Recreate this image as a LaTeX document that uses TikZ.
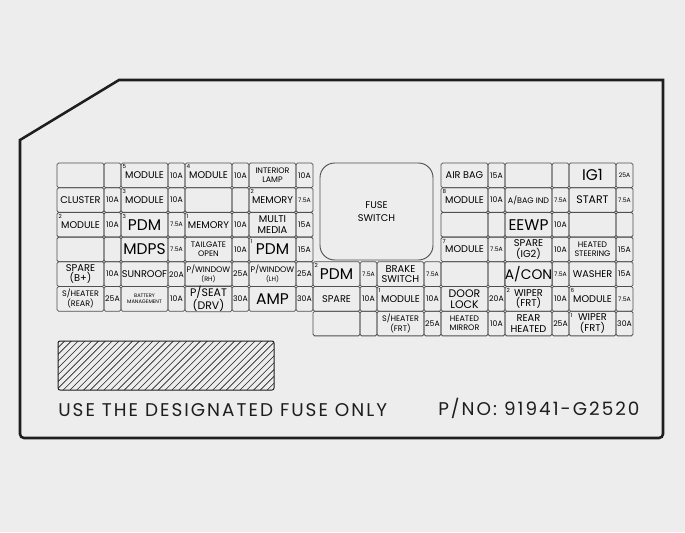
\documentclass[tikz,border=0pt]{standalone}
\usepackage{fontspec}
\setmainfont{Poppins}
\newfontfamily\spaced[LetterSpace=11]{Poppins}
\usepackage{tikz}

\definecolor{panel}{HTML}{EDEDED}
\definecolor{ink}{HTML}{1E1E1E}
\definecolor{cellline}{HTML}{505050}

\newcommand{\fslab}{\fontsize{7.3}{7.3}\selectfont}
\newcommand{\fstwo}{\fontsize{7.4}{7.9}\selectfont}
\newcommand{\fsmid}{\fontsize{8.2}{8.3}\selectfont}
\newcommand{\fswide}{\fontsize{10.4}{10.4}\selectfont}
\newcommand{\fsbig}{\fontsize{11.6}{11.6}\selectfont}
\newcommand{\fssmall}{\fontsize{6}{6.6}\selectfont}
\newcommand{\fstiny}{\fontsize{4.8}{5}\selectfont}
\newcommand{\fsmini}{\fontsize{3.8}{4.6}\selectfont}
\newcommand{\fsamp}{\fontsize{5.8}{5.8}\selectfont}
\newcommand{\fsampsm}{\fontsize{4.6}{4.6}\selectfont}
\newcommand{\fsnum}{\fontsize{4.2}{4.2}\selectfont}
\newcommand{\fsfoot}{\fontsize{13.8}{13.8}\selectfont}

\tikzset{
  fusebox/.style={draw=cellline, line width=0.6pt, rounded corners=1.2pt,
    inner sep=0pt, minimum height=18.5pt, align=center},
  namecell/.style={fusebox, minimum width=35.25pt},
  ampcell/.style={fusebox, minimum width=12.75pt, font=\fsamp},
  numtext/.style={anchor=north west, inner sep=0pt, xshift=1.3pt, yshift=-1.5pt, font=\fsnum},
}

% name, group x, row, font, label, rating
\newcommand{\fusepair}[6]{%
  \node[namecell, font=#4] (#1) at ({#2+23.5},{163+(#3-0.5)*24.7}) {#5};
  \node[ampcell] (#1a) at ({#2+55.5},{163+(#3-0.5)*24.7}) {#6};}

\begin{document}
\begin{tikzpicture}[x=0.75pt, y=-0.75pt]
\fill[panel] (0,0) rectangle (685,532);
\useasboundingbox (0,0) rectangle (685,532);

% outline of the lid
\draw[ink, line width=1.9pt, line join=miter] (20,300) -- (20,140) -- (119,80) -- (663,80)
  [rounded corners=3pt] -- (663,438) -- (20,438) -- (20,300);

% fuse switch
\node[draw=cellline, line width=0.7pt, rounded corners=11pt, minimum width=84.75pt,
  minimum height=72.75pt, font=\fslab, align=center] (switch) at (376.5,211.5) {FUSE\\[3pt]SWITCH};

% left block
\fusepair{f1a}{57}{1}{\fslab}{}{}
\fusepair{f1b}{121}{1}{\fslab}{MODULE}{10A}
\fusepair{f1c}{185}{1}{\fslab}{MODULE}{10A}
\fusepair{f1d}{249}{1}{\fssmall}{INTERIOR\\LAMP}{10A}
\fusepair{f2a}{57}{2}{\fslab}{CLUSTER}{10A}
\fusepair{f2b}{121}{2}{\fslab}{MODULE}{10A}
\fusepair{f2c}{185}{2}{\fslab}{}{}
\fusepair{f2d}{249}{2}{\fslab}{MEMORY}{\fsampsm 7.5A}
\fusepair{f3a}{57}{3}{\fslab}{MODULE}{10A}
\fusepair{f3b}{121}{3}{\fsbig}{PDM}{\fsampsm 7.5A}
\fusepair{f3c}{185}{3}{\fslab}{MEMORY}{10A}
\fusepair{f3d}{249}{3}{\fstwo}{MULTI\\MEDIA}{15A}
\fusepair{f4a}{57}{4}{\fslab}{}{}
\fusepair{f4b}{121}{4}{\fsbig}{MDPS}{\fsampsm 7.5A}
\fusepair{f4c}{185}{4}{\fssmall}{TAILGATE\\OPEN}{10A}
\fusepair{f4d}{249}{4}{\fsbig}{PDM}{15A}
\fusepair{f5a}{57}{5}{\fstwo}{SPARE\\(B+)}{10A}
\fusepair{f5b}{121}{5}{\fslab}{SUNROOF}{20A}
\fusepair{f5c}{185}{5}{\fssmall}{P/WINDOW\\{\fstiny (RH)}}{25A}
\fusepair{f5d}{249}{5}{\fssmall}{P/WINDOW\\{\fstiny (LH)}}{25A}
\fusepair{f6a}{57}{6}{\fssmall}{S/HEATER\\(REAR)}{25A}
\fusepair{f6b}{121}{6}{\fsmini}{BATTERY\\MANAGEMENT}{10A}
\fusepair{f6c}{185}{6}{\fsmid}{P/SEAT\\(DRV)}{30A}
\fusepair{f6d}{249}{6}{\fsbig}{AMP}{30A}

% middle block
\fusepair{f5e}{313}{5}{\fsbig}{PDM}{\fsampsm 7.5A}
\fusepair{f5f}{377}{5}{\fstwo}{BRAKE\\SWITCH}{\fsampsm 7.5A}
\fusepair{f6e}{313}{6}{\fslab}{SPARE}{10A}
\fusepair{f6f}{377}{6}{\fslab}{MODULE}{10A}
\fusepair{f7e}{313}{7}{\fslab}{}{}
\fusepair{f7f}{377}{7}{\fssmall}{S/HEATER\\(FRT)}{25A}

% right block
\fusepair{f1g}{441}{1}{\fslab}{AIR BAG}{15A}
\fusepair{f1h}{505}{1}{\fslab}{}{}
\fusepair{f1i}{569}{1}{\fsbig}{IG1}{\fsampsm 25A}
\fusepair{f2g}{441}{2}{\fslab}{MODULE}{10A}
\fusepair{f2h}{505}{2}{\fssmall}{A/BAG IND}{\fsampsm 7.5A}
\fusepair{f2i}{569}{2}{\fsmid}{START}{\fsampsm 7.5A}
\fusepair{f3g}{441}{3}{\fslab}{}{}
\fusepair{f3h}{505}{3}{\fsbig}{EEWP}{10A}
\fusepair{f3i}{569}{3}{\fslab}{}{}
\fusepair{f4g}{441}{4}{\fslab}{MODULE}{\fsampsm 7.5A}
\fusepair{f4h}{505}{4}{\fstwo}{SPARE\\(IG2)}{10A}
\fusepair{f4i}{569}{4}{\fssmall}{HEATED\\STEERING}{15A}
\fusepair{f5g}{441}{5}{\fslab}{}{}
\fusepair{f5h}{505}{5}{\fswide}{A/CON}{\fsampsm 7.5A}
\fusepair{f5i}{569}{5}{\fslab}{WASHER}{15A}
\fusepair{f6g}{441}{6}{\fsmid}{DOOR\\LOCK}{20A}
\fusepair{f6h}{505}{6}{\fstwo}{WIPER\\(FRT)}{10A}
\fusepair{f6i}{569}{6}{\fslab}{MODULE}{\fsampsm 7.5A}
\fusepair{f7g}{441}{7}{\fssmall}{HEATED\\MIRROR}{10A}
\fusepair{f7h}{505}{7}{\fstwo}{REAR\\HEATED}{25A}
\fusepair{f7i}{569}{7}{\fstwo}{WIPER\\(FRT)}{30A}

% small position numbers
\foreach \c/\n in {f1b/5, f1c/4, f2b/3, f2d/2, f3a/2, f3b/3, f3c/1, f4d/1,
  f5e/2, f6f/1, f2g/8, f4g/7, f6h/2, f6i/6, f7i/1}
  \node[numtext] (n-\c) at (\c.north west) {\n};

% label area
\begin{scope}
\clip[rounded corners=1.5pt] (58,341) rectangle (274,390);
\foreach \hx in {2,8.8,...,276}
  \draw[ink, line width=0.45pt] (\hx,390) -- (\hx+49,341);
\end{scope}
\draw[ink, line width=0.75pt, rounded corners=1.5pt] (58,341) rectangle (274,390);

\node[anchor=base west, inner sep=0pt, font=\spaced\fsfoot, text=ink] (note) at (58,416) {USE THE DESIGNATED FUSE ONLY};
\node[anchor=base west, inner sep=0pt, font=\spaced\fsfoot, text=ink] (partno) at (438,415) {P/NO: 91941-G2520};

\end{tikzpicture}
\end{document}
